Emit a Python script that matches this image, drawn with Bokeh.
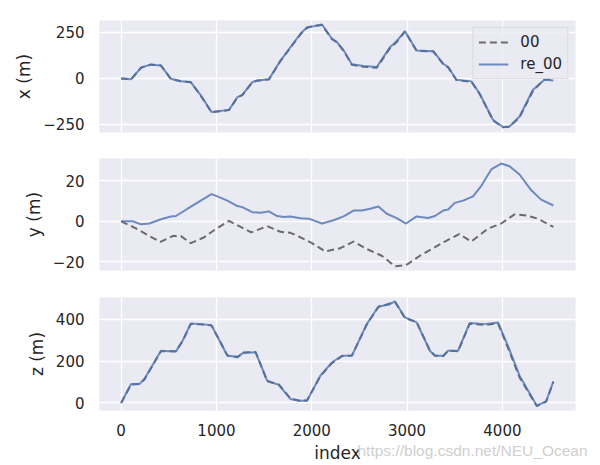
from bokeh.plotting import figure
from bokeh.layouts import column
from bokeh.models import FixedTicker, Range1d, Legend, LegendItem, Label
from bokeh.embed import file_html
from bokeh.resources import INLINE

# ---- data ----
x_idx = [0, 104, 209, 313, 418, 522, 627, 731, 836, 948, 1132, 1219, 1271, 1376, 1428,
         1550, 1672, 1881, 1951, 2020, 2107, 2212, 2264, 2334, 2421, 2543, 2682, 2821,
         2891, 2978, 3100, 3274, 3379, 3431, 3518, 3675, 3762, 3901, 4005, 4075, 4180,
         4319, 4441, 4535]
x_re = [0, -5, 59, 75, 70, -2, -15, -20, -92, -183, -171, -102, -90, -20, -11,
        -5, 97, 243, 278, 284, 293, 216, 198, 153, 77, 68, 62, 170,
        203, 257, 152, 148, 80, 62, -7, -16, -83, -225, -264, -261, -207,
        -63, -7, -11]
x_00 = [0, -5, 58, 76, 70, -3, -15, -21, -94, -184, -172, -104, -91, -21, -12,
        -6, 95, 240, 276, 285, 290, 214, 197, 150, 74, 64, 58, 165,
        198, 255, 150, 147, 78, 60, -9, -18, -85, -228, -266, -262, -212,
        -70, -3, -5]

y_re_idx = [0, 122, 209, 296, 418, 522, 575, 697, 836, 948, 1010, 1115, 1219, 1271, 1376,
            1463, 1550, 1637, 1707, 1776, 1881, 1968, 2107, 2229, 2334, 2438, 2525, 2612,
            2699, 2787, 2891, 2989, 3100, 3222, 3292, 3379, 3431, 3501, 3588, 3692, 3779,
            3883, 3988, 4075, 4180, 4301, 4406, 4535]
y_re = [0, 0, -1.5, -1.1, 1, 2.4, 2.6, 6.2, 10.2, 13.4, 12.3, 10.2, 7.5, 7, 4.5,
        4.2, 4.9, 2.6, 2.1, 2.4, 1.5, 1.3, -1.1, 0.5, 2.4, 5.3, 5.3, 6.2,
        7.3, 3.7, 1.6, -1.1, 2.4, 1.6, 2.6, 5.3, 5.8, 9.1, 10.2, 12.3, 17.5,
        25.6, 28.5, 27.2, 23.1, 15.4, 10.7, 7.8]

y_00_idx = [0, 139, 279, 411, 540, 627, 731, 871, 975, 1132, 1254, 1365, 1532, 1672, 1776,
            1881, 2003, 2142, 2299, 2438, 2577, 2734, 2873, 2989, 3135, 3274, 3396, 3547,
            3675, 3849, 3988, 4127, 4249, 4371, 4535]
y_00 = [0, -3.1, -6.8, -10.2, -7.3, -7.3, -10.8, -7.9, -4.4, 0.2, -2.8, -5.5, -2.4, -5.2, -5.7,
        -7.9, -10.8, -14.9, -13.3, -10, -13.7, -17, -22.2, -21.7, -17, -13.3, -10, -6.3,
        -10, -3.6, -1.1, 3.4, 2.9, 1.3, -2.8]

z_idx = [0, 104, 191, 244, 418, 575, 645, 731, 836, 948, 1115, 1219, 1289, 1411, 1532,
         1654, 1776, 1881, 1951, 2090, 2212, 2316, 2421, 2577, 2699, 2804, 2873, 2978,
         3100, 3239, 3292, 3379, 3431, 3535, 3657, 3814, 3953, 4057, 4180, 4361, 4459, 4535]
z_re = [0, 90, 90, 114, 249, 246, 297, 379, 376, 371, 225, 220, 241, 241, 106,
        86, 19, 11, 11, 130, 193, 225, 225, 376, 460, 468, 484, 408,
        384, 249, 225, 225, 249, 249, 381, 376, 384, 273, 130, -13, 8, 103]
z_00 = [0, 88, 91, 112, 247, 247, 295, 377, 375, 370, 227, 218, 240, 243, 104,
        88, 21, 9, 13, 128, 190, 223, 226, 374, 458, 472, 482, 405,
        386, 251, 226, 223, 250, 247, 378, 372, 380, 265, 122, -15, 6, 100]

x_ticks = [0, 1000, 2000, 3000, 4000]
ticks_x_panel = [-250, 0, 250]
ticks_y_panel = [-20, 0, 20]
ticks_z_panel = [0, 200, 400]

BG = "#EAEAF2"
TXT = "#262626"
FONT = "DejaVu Sans"
BLUE = "#4C72B0"

xr = Range1d(-227, 4767)


def make_fig(yrange, yticks, ylabel, top, bottom, fh, show_x):
    p = figure(frame_width=476, frame_height=fh, x_range=xr, y_range=Range1d(*yrange),
               output_backend="svg", toolbar_location=None,
               min_border_left=99, min_border_right=25,
               min_border_top=top, min_border_bottom=bottom)
    p.background_fill_color = BG
    p.border_fill_color = "white"
    p.outline_line_color = None
    for g in (p.xgrid, p.ygrid):
        g.grid_line_color = "white"
        g.grid_line_width = 1.3
    p.xgrid.ticker = FixedTicker(ticks=x_ticks)
    p.ygrid.ticker = FixedTicker(ticks=yticks)
    for ax in (p.xaxis, p.yaxis):
        ax.axis_line_color = None
        ax.major_tick_line_color = None
        ax.minor_tick_line_color = None
        ax.major_tick_in = 0
        ax.major_tick_out = 0
        ax.major_label_text_font = FONT
        ax.major_label_text_font_size = "15px"
        ax.major_label_text_color = TXT
        ax.axis_label_text_font = FONT
        ax.axis_label_text_font_size = "17px"
        ax.axis_label_text_font_style = "normal"
        ax.axis_label_text_color = TXT
    p.xaxis.ticker = FixedTicker(ticks=x_ticks)
    p.yaxis.ticker = FixedTicker(ticks=yticks)
    p.yaxis.major_label_overrides = {t: ("\u2212" + str(-t)) for t in yticks if t < 0}
    p.yaxis.major_label_standoff = 15
    p.xaxis.major_label_standoff = 13
    p.yaxis.axis_label = ylabel
    p.yaxis.axis_label_standoff = 6
    if show_x:
        p.xaxis.axis_label = "index"
        p.xaxis.axis_label_standoff = 4
    else:
        p.xaxis.visible = False
    return p


p1 = make_fig((-294, 315), ticks_x_panel, "x (m)", 20, 13, 112, False)
p2 = make_fig((-24.3, 31.0), ticks_y_panel, "y (m)", 13, 5, 112, False)
p3 = make_fig((-36, 503), ticks_z_panel, "z (m)", 22, 54, 113, True)

renders = []
for p, i0, v0, i1, v1 in ((p1, x_idx, x_00, x_idx, x_re),
                          (p2, y_00_idx, y_00, y_re_idx, y_re),
                          (p3, z_idx, z_00, z_idx, z_re)):
    r0 = p.line(i0, v0, line_color="black", line_alpha=0.55, line_width=2,
                line_dash="7 4")
    r1 = p.line(i1, v1, line_color=BLUE, line_alpha=0.8, line_width=2)
    renders.append((r0, r1))

leg = Legend(items=[LegendItem(label="00", renderers=[renders[0][0]]),
                    LegendItem(label="re_00", renderers=[renders[0][1]])],
             location="top_right")
leg.margin = 7
leg.padding = 5
leg.spacing = 4
leg.glyph_width = 30
leg.glyph_height = 18
leg.label_height = 18
leg.label_standoff = 12
leg.label_text_font = FONT
leg.label_text_font_size = "15px"
leg.label_text_color = TXT
leg.border_line_color = "#CCCCCC"
leg.border_line_width = 1
leg.background_fill_color = BG
leg.background_fill_alpha = 0.8
p1.add_layout(leg)

# watermark: placed in the above side panel (not clipped to the frame), drawn near the bottom
wm = Label(x=258, y=-161, x_units="screen", y_units="screen",
           text="https://blog.csdn.net/NEU_Ocean",
           text_font="Liberation Sans",
           text_font_size="15.5px", text_color="#CFCFCF")
p3.add_layout(wm, "above")

layout = column(p1, p2, p3, spacing=0)
open("out.html", "w").write(file_html(layout, INLINE))
